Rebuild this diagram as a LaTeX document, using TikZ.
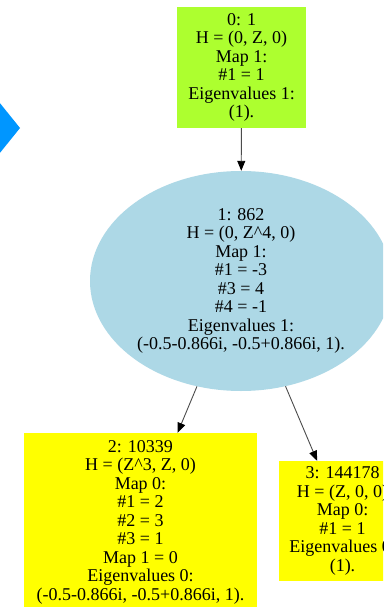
\documentclass[tikz,border=0pt]{standalone}
\usepackage{fontspec}
\setmainfont{Liberation Serif}
\usetikzlibrary{shapes.geometric,arrows.meta}

\definecolor{boxgreen}{HTML}{ADFF2F}
\definecolor{ellblue}{HTML}{ADD8E6}
\definecolor{boxyellow}{HTML}{FFFF00}
\definecolor{markblue}{RGB}{0,150,255}

\tikzset{
  state/.style={inner sep=0pt, align=center,
    font=\fontsize{18pt}{18.5pt}\selectfont},
  rectstate/.style={state, rectangle},
  ellstate/.style={state, ellipse},
  edge/.style={draw=black!70, line width=0.9pt,
    -{Triangle[length=10pt,width=8pt,fill=black,color=black]}}
}

\begin{document}
\begin{tikzpicture}[x=1pt,y=-1pt]
  \useasboundingbox (0,0) rectangle (383,607);
  \clip (0,0) rectangle (383,607);
  \fill[white] (0,0) rectangle (383,607);

  % blue marker on the left edge
  \fill[markblue] (20,128) -- (-30,66) -- (-80,128) -- (-30,190) -- cycle;

  \node[rectstate, fill=boxgreen, minimum width=129pt, minimum height=121pt]
    (n0) at (241.5,67.5)
    {0: 1\\H = (0, Z, 0)\\Map 1:\\\#1 = 1\\Eigenvalues 1:\\(1).};

  \node[ellstate, fill=ellblue, minimum width=302pt, minimum height=220pt]
    (n1) at (241,281)
    {1: 862\\H = (0, Z\^{}4, 0)\\Map 1:\\\#1 = -3\\\#3 = 4\\\#4 = -1\\Eigenvalues 1:\\(-0.5-0.866i, -0.5+0.866i, 1).};

  \node[rectstate, fill=boxyellow, minimum width=233pt, minimum height=178pt]
    (n2) at (140.5,522)
    {2: 10339\\H = (Z\^{}3, Z, 0)\\Map 0:\\\#1 = 2\\\#2 = 3\\\#3 = 1\\Map 1 = 0\\Eigenvalues 0:\\(-0.5-0.866i, -0.5+0.866i, 1).};

  \node[rectstate, fill=boxyellow, minimum width=127pt, minimum height=120pt]
    (n3) at (342.5,521)
    {3: 144178\\H = (Z, 0, 0)\\Map 0:\\\#1 = 1\\Eigenvalues 0:\\(1).};

  \draw[edge] (n0) -- (n1);
  \draw[edge] (n1) -- (n2);
  \draw[edge] (n1) -- (n3);
\end{tikzpicture}
\end{document}
